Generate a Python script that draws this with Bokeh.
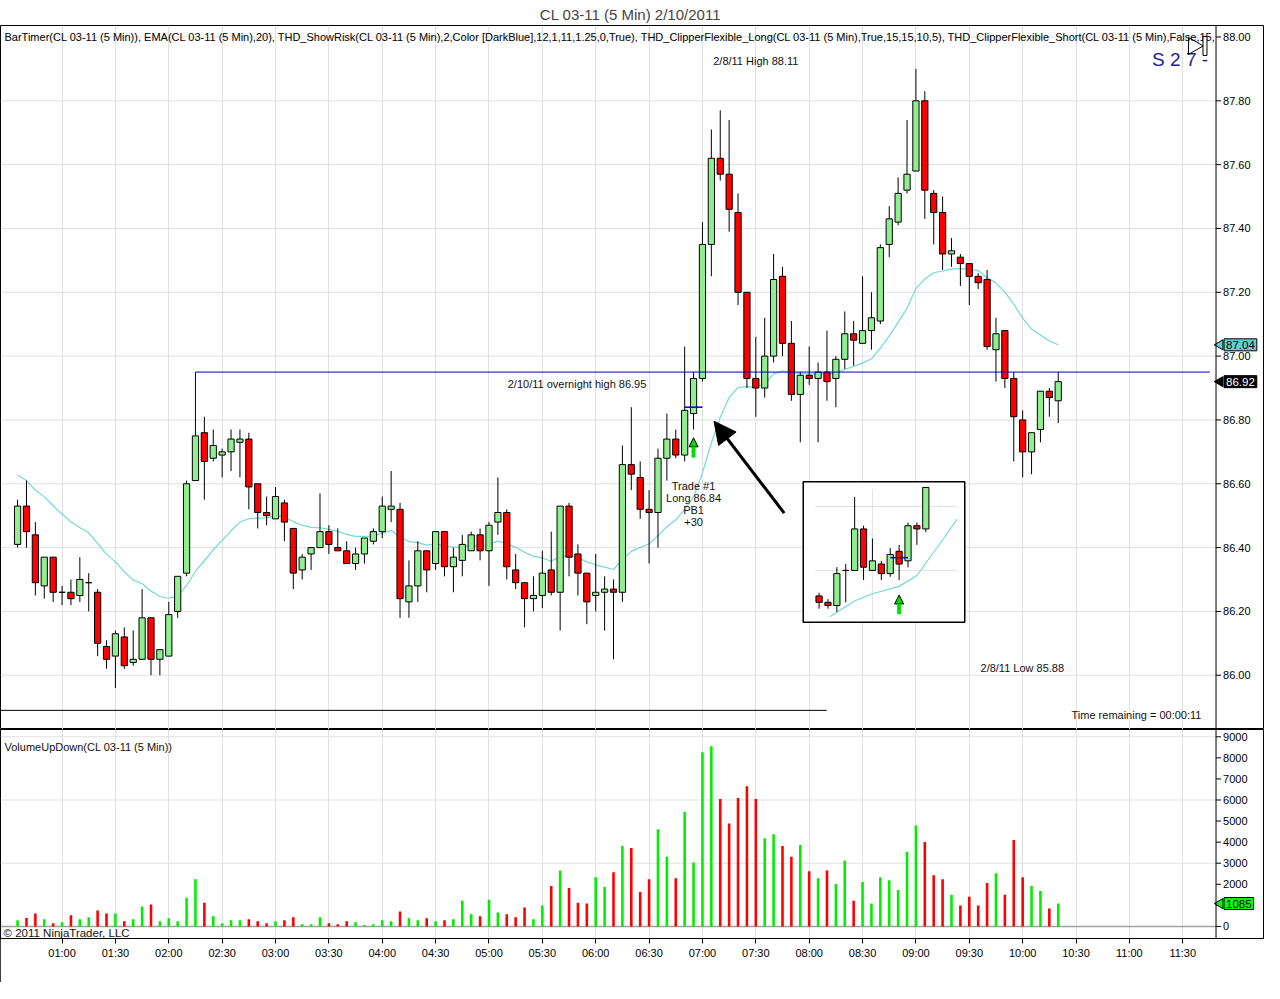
import numpy as np
import pandas as pd
from bokeh.plotting import figure
from bokeh.layouts import column
from bokeh.models import (ColumnDataSource, Range1d, FixedTicker, DatetimeTickFormatter,
                          Arrow, NormalHead, Span)
from bokeh.embed import file_html
from bokeh.resources import INLINE
from bokeh.core.properties import value

# ---------------- data ----------------
start_time = "2011-02-10 00:35"
bar_minutes = 5

opens = [86.41, 86.53, 86.44, 86.28, 86.37, 86.26, 86.26, 86.25, 86.29, 86.26,
         86.09, 86.06, 86.12, 86.04, 86.05, 86.18, 86.05, 86.06, 86.20, 86.32,
         86.61, 86.76, 86.68, 86.69, 86.70, 86.73, 86.74, 86.60, 86.51, 86.49,
         86.54, 86.46, 86.33, 86.38, 86.40, 86.45, 86.40, 86.39, 86.35, 86.38,
         86.42, 86.45, 86.52, 86.52, 86.23, 86.28, 86.39, 86.35, 86.45, 86.34,
         86.36, 86.39, 86.44, 86.39, 86.48, 86.51, 86.33, 86.29, 86.24, 86.25,
         86.33, 86.26, 86.53, 86.38, 86.32, 86.25, 86.26, 86.27, 86.26, 86.66,
         86.62, 86.52, 86.51, 86.68, 86.74, 86.69, 86.82, 86.93, 87.35, 87.62,
         87.57, 87.45, 87.20, 86.93, 86.90, 87.00, 87.25, 87.04, 86.88, 86.94,
         86.93, 86.95, 86.93, 86.99, 87.07, 87.04, 87.08, 87.11, 87.35, 87.42,
         87.52, 87.58, 87.80, 87.51, 87.45, 87.32, 87.31, 87.29, 87.25, 87.24,
         87.02, 87.08, 86.93, 86.80, 86.70, 86.77, 86.89, 86.86]
highs = [86.55, 86.61, 86.48, 86.37, 86.37, 86.28, 86.30, 86.37, 86.32, 86.27,
         86.11, 86.14, 86.15, 86.14, 86.27, 86.18, 86.08, 86.23, 86.31, 86.61,
         86.95, 86.81, 86.77, 86.71, 86.77, 86.77, 86.76, 86.60, 86.56, 86.59,
         86.55, 86.46, 86.38, 86.40, 86.57, 86.47, 86.46, 86.42, 86.40, 86.43,
         86.46, 86.56, 86.64, 86.54, 86.36, 86.42, 86.39, 86.45, 86.45, 86.40,
         86.44, 86.45, 86.46, 86.48, 86.62, 86.52, 86.38, 86.29, 86.31, 86.39,
         86.45, 86.53, 86.54, 86.41, 86.32, 86.38, 86.31, 86.30, 86.72, 86.84,
         86.67, 86.58, 86.71, 86.82, 86.77, 87.03, 86.95, 87.42, 87.71, 87.77,
         87.74, 87.51, 87.20, 87.06, 87.12, 87.32, 87.28, 87.11, 86.95, 87.03,
         86.98, 87.08, 87.00, 87.14, 87.11, 87.25, 87.20, 87.35, 87.47, 87.56,
         87.74, 87.90, 87.83, 87.52, 87.50, 87.37, 87.32, 87.29, 87.26, 87.27,
         87.12, 87.08, 86.95, 86.83, 86.76, 86.89, 86.90, 86.95]
lows = [86.40, 86.40, 86.25, 86.24, 86.23, 86.22, 86.22, 86.23, 86.20, 86.06,
        86.02, 85.96, 86.02, 86.03, 86.05, 86.00, 86.00, 86.06, 86.18, 86.31,
        86.61, 86.55, 86.67, 86.62, 86.64, 86.62, 86.52, 86.46, 86.47, 86.49,
        86.42, 86.27, 86.30, 86.33, 86.40, 86.38, 86.39, 86.35, 86.33, 86.35,
        86.41, 86.43, 86.48, 86.18, 86.18, 86.23, 86.26, 86.33, 86.31, 86.26,
        86.31, 86.39, 86.36, 86.28, 86.44, 86.30, 86.27, 86.15, 86.20, 86.21,
        86.25, 86.14, 86.31, 86.25, 86.16, 86.20, 86.14, 86.05, 86.23, 86.58,
        86.49, 86.35, 86.40, 86.61, 86.68, 86.67, 86.77, 86.92, 87.25, 87.55,
        87.39, 87.16, 86.90, 86.81, 86.87, 86.98, 87.00, 86.86, 86.73, 86.91,
        86.73, 86.86, 86.84, 86.96, 86.97, 87.04, 87.02, 87.10, 87.31, 87.41,
        87.51, 87.58, 87.43, 87.35, 87.27, 87.28, 87.22, 87.16, 87.21, 87.02,
        86.92, 86.90, 86.67, 86.62, 86.63, 86.73, 86.81, 86.79]
closes = [86.53, 86.45, 86.29, 86.37, 86.26, 86.26, 86.24, 86.30, 86.29, 86.10,
          86.05, 86.13, 86.03, 86.05, 86.18, 86.05, 86.08, 86.19, 86.31, 86.60,
          86.75, 86.67, 86.72, 86.70, 86.74, 86.74, 86.59, 86.51, 86.50, 86.56,
          86.48, 86.32, 86.37, 86.40, 86.45, 86.41, 86.39, 86.35, 86.38, 86.43,
          86.45, 86.53, 86.53, 86.24, 86.28, 86.39, 86.33, 86.45, 86.34, 86.37,
          86.41, 86.44, 86.39, 86.47, 86.51, 86.34, 86.29, 86.24, 86.25, 86.32,
          86.26, 86.53, 86.37, 86.32, 86.23, 86.26, 86.27, 86.26, 86.66, 86.63,
          86.52, 86.51, 86.68, 86.74, 86.69, 86.83, 86.93, 87.35, 87.62, 87.57,
          87.46, 87.20, 86.93, 86.90, 87.00, 87.24, 87.04, 86.88, 86.94, 86.93,
          86.95, 86.92, 86.99, 87.07, 87.05, 87.08, 87.12, 87.34, 87.43, 87.51,
          87.57, 87.80, 87.52, 87.45, 87.32, 87.33, 87.29, 87.25, 87.23, 87.03,
          87.07, 86.93, 86.81, 86.70, 86.76, 86.89, 86.87, 86.92]
volumes = [294, 402, 618, 340, 155, 201, 526, 340, 433, 758,
           618, 618, 247, 340, 943, 1036, 247, 387, 247, 1360,
           2242, 1129, 479, 155, 294, 294, 340, 247, 155, 247,
           294, 433, 108, 108, 433, 155, 108, 247, 201, 62,
           108, 294, 247, 711, 387, 294, 387, 247, 294, 340,
           1221, 572, 479, 1268, 665, 572, 433, 897, 340, 989,
           1917, 2659, 1824, 1129, 1082, 2334, 1871, 2566, 3819, 3726,
           1639, 2242, 4607, 3308, 2288, 5442, 3030, 8271, 8549, 6045,
           4885, 6091, 6648, 6045, 4190, 4375, 3819, 3308, 3865, 2613,
           2288, 2659, 2010, 3123, 1221, 2103, 1082, 2334, 2195, 1732,
           3540, 4793, 4004, 2427, 2242, 1500, 989, 1407, 989, 2056,
           2520, 1500, 4097, 2334, 1917, 1685, 850, 1085]

ema_period = 20
ema_seed = 86.627          # EMA value at the first visible bar

time_tick_labels = ["01:00", "01:30", "02:00", "02:30", "03:00", "03:30", "04:00", "04:30",
                    "05:00", "05:30", "06:00", "06:30", "07:00", "07:30", "08:00", "08:30",
                    "09:00", "09:30", "10:00", "10:30", "11:00", "11:30"]
price_ticks = [86.00, 86.20, 86.40, 86.60, 86.80, 87.00, 87.20, 87.40, 87.60, 87.80, 88.00]
volume_ticks = [0, 1000, 2000, 3000, 4000, 5000, 6000, 7000, 8000, 9000]
volume_grid_ticks = [3000, 6000, 9000]

overnight_high = 86.95
overnight_high_bar = 20
prior_low_line = 85.89
prior_low_line_end_bar = 90.97
trade_bar = 76
trade_entry = 86.84
trade_text = "Trade #1\nLong 86.84\nPB1\n+30"
header_text = ("BarTimer(CL 03-11 (5 Min)), EMA(CL 03-11 (5 Min),20), "
               "THD_ShowRisk(CL 03-11 (5 Min),2,Color [DarkBlue],12,1,11,1.25,0,True), "
               "THD_ClipperFlexible_Long(CL 03-11 (5 Min),True,15,15,10,5), "
               "THD_ClipperFlexible_Short(CL 03-11 (5 Min),False,15,")

# inset picture (a snapshot of an earlier chart)
inset_open = [86.32, 86.30, 86.29, 86.40, 86.40, 86.53, 86.40, 86.42, 86.39, 86.46, 86.43, 86.54, 86.53]
inset_high = [86.33, 86.31, 86.41, 86.42, 86.63, 86.54, 86.50, 86.43, 86.47, 86.48, 86.55, 86.55, 86.66]
inset_low = [86.28, 86.28, 86.27, 86.30, 86.40, 86.37, 86.40, 86.37, 86.38, 86.37, 86.41, 86.48, 86.52]
inset_close = [86.30, 86.29, 86.39, 86.40, 86.53, 86.41, 86.43, 86.39, 86.45, 86.42, 86.54, 86.53, 86.66]
inset_ema_bar = [1.2, 4, 6, 9, 11, 14, 15.5]
inset_ema = [86.255, 86.304, 86.327, 86.35, 86.384, 86.50, 86.56]
inset_grid_prices = [86.60, 86.40]
inset_entry = 86.44
inset_entry_bar = 9

# ---------------- layout constants ----------------
XMIN_BAR, XEND_BAR = -1.92, 140.19     # full frame incl. price-scale strip
XAXIS_BAR = 134.74                      # where the price scale line sits
PRICE_MIN, PRICE_MAX = 85.83, 88.036
VOL_MIN, VOL_MAX = -573, 9345
INSET_BAR0 = 90.11
INSET_SHIFT = -0.0715
INSET_BOX = dict(left=88.33, right=106.49, bottom=86.166, top=86.606)
TICK_LEN_BARS = 0.56

UP_COLOR, DN_COLOR = "#90EE90", "#FF0000"
VUP_COLOR, VDN_COLOR = "#00EE00", "#FF0000"
EMA_COLOR = "#74D9D6"
GRID_COLOR = "#E1E1E1"
LINE_BLUE = "#0000CC"
FONT = "Liberation Sans"

t0 = pd.Timestamp(start_time)


def tx(bar):
    return (t0 + pd.Timedelta(minutes=bar_minutes * bar)).value / 1e6


n = len(closes)
x = [tx(i) for i in range(n)]
ema = [ema_seed]
k = 2.0 / (ema_period + 1)
for c in closes[1:]:
    ema.append(ema[-1] + k * (c - ema[-1]))

up = [c >= o for o, c in zip(opens, closes)]
src = ColumnDataSource(dict(
    x=x, o=opens, h=highs, l=lows, c=closes, vol=volumes, ema=ema,
    top=[max(o, c) for o, c in zip(opens, closes)],
    bot=[min(o, c) for o, c in zip(opens, closes)],
    color=[UP_COLOR if u else DN_COLOR for u in up],
    vcolor=[VUP_COLOR if u else VDN_COLOR for u in up],
))

BODY_W = 3.5 * 60000
VOL_W = 1.45 * 60000
xticks = [pd.Timestamp("2011-02-10 " + s).value / 1e6 for s in time_tick_labels]
tfmt = DatetimeTickFormatter(minutes="%H:%M", hourmin="%H:%M", hours="%H:%M",
                             minsec="%H:%M", days="%H:%M")

W = 1264
HP = 729
HV = 253
X_AX = tx(XAXIS_BAR)


def price_scale(fig, ticks, labels, grid_ticks, xmin):
    """Right-hand scale drawn inside the frame strip, NinjaTrader style."""
    fig.segment(x0=[tx(xmin)] * len(grid_ticks), x1=[X_AX] * len(grid_ticks),
                y0=grid_ticks, y1=grid_ticks, line_color=GRID_COLOR, line_width=1,
                level="underlay")
    fig.add_layout(Span(location=X_AX, dimension="height", line_color="black", line_width=1))
    fig.segment(x0=[X_AX] * len(ticks), x1=[tx(XAXIS_BAR + TICK_LEN_BARS)] * len(ticks),
                y0=ticks, y1=ticks, line_color="black", line_width=1)
    fig.text(x=[X_AX] * len(ticks), y=ticks, x_offset=7, text=labels,
             text_font=value(FONT), text_font_size="11px", text_color="black",
             text_align="left", text_baseline="middle")


def tag(fig, yv, txt, fill, tcolor):
    fig.scatter(x=[tx(XAXIS_BAR + 0.45)], y=[yv], marker="triangle", angle=np.pi / 2,
                size=10, fill_color=fill, line_color="black", line_width=1)
    fig.text(x=[X_AX], y=[yv], x_offset=8, text=[txt], text_font=value(FONT),
             text_font_size="11.5px", text_color=tcolor, text_align="left",
             text_baseline="middle", background_fill_color=fill,
             border_line_color="black", padding=2)


# ---------------- price panel ----------------
p = figure(width=W, height=HP, x_axis_type="datetime", x_axis_location=None,
           y_axis_location=None,
           x_range=Range1d(tx(XMIN_BAR), tx(XEND_BAR)),
           y_range=Range1d(PRICE_MIN, PRICE_MAX),
           toolbar_location=None, output_backend="svg",
           min_border_left=0, min_border_right=0, min_border_top=0, min_border_bottom=0)
p.title.text = "CL 03-11 (5 Min)  2/10/2011"
p.title.align = "center"
p.title.text_font = FONT
p.title.text_font_size = "15px"
p.title.text_font_style = "normal"
p.title.standoff = 6
p.outline_line_color = "black"
p.xgrid.ticker = FixedTicker(ticks=xticks)
p.xgrid.grid_line_color = GRID_COLOR
p.ygrid.grid_line_color = None

price_scale(p, price_ticks, [f"{t:.2f}" for t in price_ticks], price_ticks, XMIN_BAR)

# header text
p.text(x=[tx(XMIN_BAR)], y=[PRICE_MAX], x_offset=4, y_offset=5, text=[header_text],
       text_font=value(FONT), text_font_size="11px", text_color="black",
       text_baseline="top", text_align="left")

# prior-day low line
p.segment(x0=[tx(XMIN_BAR)], y0=[prior_low_line], x1=[tx(prior_low_line_end_bar)],
          y1=[prior_low_line], line_color="black", line_width=1)

# EMA
p.line("x", "ema", source=src, line_color=EMA_COLOR, line_width=1.2)

# candles
p.segment(x0="x", y0="h", x1="x", y1="l", source=src, line_color="black", line_width=1)
p.vbar(x="x", width=BODY_W, top="top", bottom="bot", source=src,
       fill_color="color", line_color="black", line_width=1)

# overnight high line
p.segment(x0=[tx(overnight_high_bar)], y0=[overnight_high], x1=[tx(XAXIS_BAR - 0.7)],
          y1=[overnight_high], line_color=LINE_BLUE, line_width=1)
p.text(x=[tx(62.9)], y=[overnight_high], y_offset=6,
       text=[f"2/10/11 overnight high {overnight_high:.2f}"],
       text_font=value(FONT), text_font_size="11px", text_color="#111111",
       text_align="center", text_baseline="top")

# trade marker
p.segment(x0=[tx(trade_bar - 1)], y0=[trade_entry], x1=[tx(trade_bar + 1)], y1=[trade_entry],
          line_color=LINE_BLUE, line_width=1.5)
p.add_layout(Arrow(end=NormalHead(size=9, fill_color="#00DD00", line_color="black", line_width=1),
                   x_start=tx(trade_bar), y_start=lows[trade_bar] - 0.088,
                   x_end=tx(trade_bar), y_end=lows[trade_bar] - 0.026,
                   line_color="#00DD00", line_width=4))
p.text(x=[tx(trade_bar)], y=[86.612], text=[trade_text],
       text_font=value(FONT), text_font_size="11px", text_color="#111111",
       text_align="center", text_baseline="top", text_line_height=1.0)

# big pointing arrow
p.add_layout(Arrow(end=NormalHead(size=22, fill_color="black", line_color="black"),
                   x_start=tx(86.19), y_start=86.508, x_end=tx(78.3), y_end=86.796,
                   line_color="black", line_width=3))

# other labels
p.text(x=[tx(83.0)], y=[87.926], text=["2/8/11 High 88.11"], text_font=value(FONT),
       text_font_size="11px", text_color="#111111", text_align="center", text_baseline="middle")
p.text(x=[tx(112.96)], y=[86.022], text=["2/8/11 Low 85.88"], text_font=value(FONT),
       text_font_size="11px", text_color="#111111", text_align="center", text_baseline="middle")
p.text(x=[tx(133.1)], y=[85.876], text=["Time remaining = 00:00:11"], text_font=value(FONT),
       text_font_size="11px", text_color="#111111", text_align="right", text_baseline="middle")
p.text(x=[tx(130.7)], y=[87.929], text=["S 2 7 -"], text_font=value(FONT),
       text_font_size="19px", text_color="#22228F", text_align="center", text_baseline="middle")

# bar-timer icon
p.scatter(x=[tx(132.2)], y=[87.972], marker="triangle", size=17, angle=-np.pi / 2,
          fill_color=None, line_color="black", line_width=1)
p.rect(x=[tx(133.5)], y=[87.972], width=4, height=19, width_units="screen",
       height_units="screen", fill_color="white", line_color="black", line_width=1)

# inset picture
p.quad(left=[tx(INSET_BOX["left"])], right=[tx(INSET_BOX["right"])],
       bottom=[INSET_BOX["bottom"]], top=[INSET_BOX["top"]],
       fill_color="white", line_color="black", line_width=1.5)
for gp in inset_grid_prices:
    p.segment(x0=[tx(INSET_BAR0 - 0.44)], y0=[gp + INSET_SHIFT],
              x1=[tx(INSET_BAR0 + 15.48)], y1=[gp + INSET_SHIFT],
              line_color=GRID_COLOR, line_width=1)
p.segment(x0=[tx(INSET_BAR0 + 6)], y0=[86.655 + INSET_SHIFT], x1=[tx(INSET_BAR0 + 6)],
          y1=[86.242 + INSET_SHIFT], line_color=GRID_COLOR, line_width=1)
p.line([tx(INSET_BAR0 + b) for b in inset_ema_bar], [e + INSET_SHIFT for e in inset_ema],
       line_color=EMA_COLOR, line_width=1.2)
ix = [tx(INSET_BAR0 + i) for i in range(len(inset_close))]
iup = [c >= o for o, c in zip(inset_open, inset_close)]
isrc = ColumnDataSource(dict(
    x=ix, h=[v + INSET_SHIFT for v in inset_high], l=[v + INSET_SHIFT for v in inset_low],
    top=[max(o, c) + INSET_SHIFT for o, c in zip(inset_open, inset_close)],
    bot=[min(o, c) + INSET_SHIFT for o, c in zip(inset_open, inset_close)],
    color=[UP_COLOR if u else DN_COLOR for u in iup]))
p.segment(x0="x", y0="h", x1="x", y1="l", source=isrc, line_color="black", line_width=1)
p.vbar(x="x", width=BODY_W, top="top", bottom="bot", source=isrc,
       fill_color="color", line_color="black", line_width=1)
p.segment(x0=[tx(INSET_BAR0 + inset_entry_bar - 1)], y0=[inset_entry + INSET_SHIFT],
          x1=[tx(INSET_BAR0 + inset_entry_bar + 1)], y1=[inset_entry + INSET_SHIFT],
          line_color=LINE_BLUE, line_width=1.5)
p.add_layout(Arrow(end=NormalHead(size=9, fill_color="#00DD00", line_color="black", line_width=1),
                   x_start=tx(INSET_BAR0 + inset_entry_bar), y_start=86.263 + INSET_SHIFT,
                   x_end=tx(INSET_BAR0 + inset_entry_bar), y_end=86.323 + INSET_SHIFT,
                   line_color="#00DD00", line_width=4))

# price tags on the scale
tag(p, ema[-1], f"{ema[-1]:.2f}", "#5FD0D0", "black")
tag(p, closes[-1], f"{closes[-1]:.2f}", "black", "white")

# ---------------- volume panel ----------------
v = figure(width=W, height=HV, x_axis_type="datetime", y_axis_location=None,
           x_range=p.x_range, y_range=Range1d(VOL_MIN, VOL_MAX),
           toolbar_location=None, output_backend="svg",
           min_border_left=0, min_border_right=0, min_border_top=0, min_border_bottom=44,
           styles={"outline": "1px solid black", "outline-offset": "-1px"})
v.outline_line_color = "black"
v.xaxis.ticker = FixedTicker(ticks=xticks)
v.xaxis.formatter = tfmt
v.xaxis.bounds = (tx(XMIN_BAR), X_AX)
v.xgrid.ticker = FixedTicker(ticks=xticks)
v.xgrid.grid_line_color = GRID_COLOR
v.ygrid.grid_line_color = None

price_scale(v, volume_ticks, [f"{t:d}" for t in volume_ticks], volume_grid_ticks, XMIN_BAR)
v.segment(x0=[tx(XMIN_BAR)], x1=[X_AX], y0=[0], y1=[0], line_color="#A0A0A0", line_width=1.5)
v.vbar(x="x", width=VOL_W, top="vol", bottom=0, source=src, fill_color="vcolor",
       line_color=None)
v.text(x=[tx(XMIN_BAR)], y=[VOL_MAX], x_offset=4, y_offset=11,
       text=["VolumeUpDown(CL 03-11 (5 Min))"], text_font=value(FONT), text_font_size="11px",
       text_color="#111111", text_baseline="top")
v.text(x=[tx(XMIN_BAR)], y=[VOL_MIN], x_offset=3, y_offset=-6,
       text=["\u00a9 2011 NinjaTrader, LLC"], text_font=value(FONT), text_font_size="11.5px",
       text_color="#111111", text_baseline="middle")
tag(v, volumes[-1], f"{volumes[-1]}", "#00FF00", "black")

for ax in v.axis:
    ax.major_label_text_font = FONT
    ax.major_label_text_font_size = "11px"
    ax.major_label_text_color = "black"
    ax.axis_line_color = "black"
    ax.major_tick_line_color = "black"
    ax.major_tick_out = 5
    ax.major_tick_in = 0
    ax.minor_tick_line_color = None
    ax.major_label_standoff = 3

layout = column(p, v, spacing=0)
open("out.html", "w").write(file_html(layout, INLINE))
